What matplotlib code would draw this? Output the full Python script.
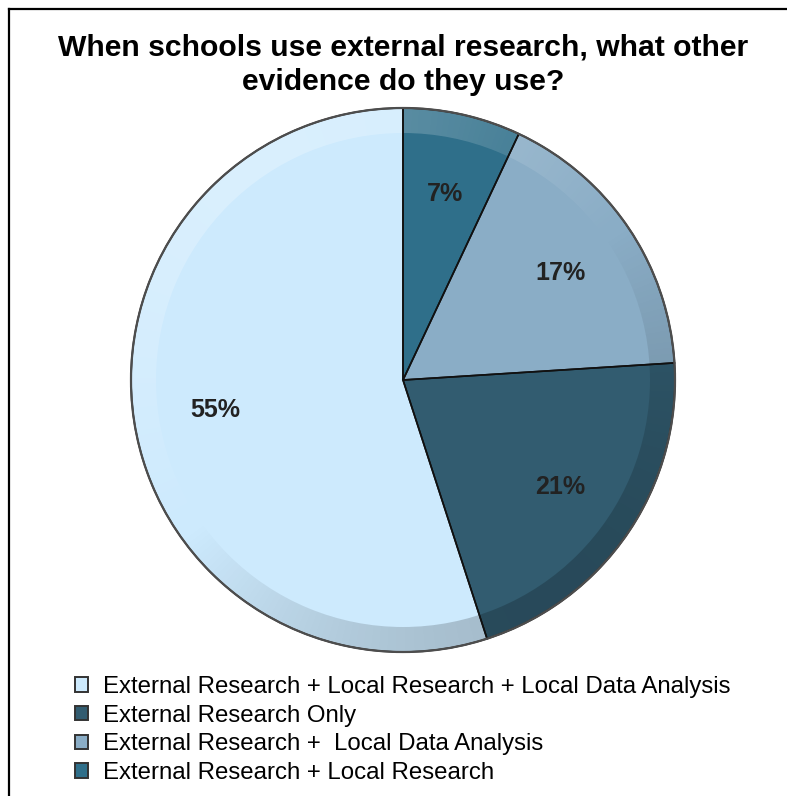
import numpy as np
import matplotlib.pyplot as plt
from matplotlib.patches import Wedge, Circle
from matplotlib.lines import Line2D

plt.rcParams['font.family'] = ['Liberation Sans', 'DejaVu Sans']

# slices clockwise from 12 o'clock
labels = ["External Research + Local Research",
          "External Research +  Local Data Analysis",
          "External Research Only",
          "External Research + Local Research + Local Data Analysis"]
shares = [7, 17, 21, 55]
colors = ["#2f6f8a", "#8aadc6", "#325c70", "#cdeafd"]

title = "When schools use external research, what other\nevidence do they use?"

W, H = 787, 796
fig = plt.figure(figsize=(W / 100, H / 100), dpi=100)
ax = fig.add_axes([0, 0, 1, 1])
ax.set_xlim(0, W)
ax.set_ylim(0, H)
ax.set_aspect('equal')
ax.axis('off')

cx, cy, r = 403, H - 380, 272

wedges, _, pcts = ax.pie(shares, colors=colors, startangle=90, counterclock=False,
                         center=(cx, cy), radius=r, frame=True,
                         autopct=lambda p: f"{p:.0f}%", pctdistance=0.7,
                         wedgeprops={'linewidth': 0})
for t in pcts:
    t.set_fontsize(18)
    t.set_fontweight('bold')
    t.set_color('#222222')
    t.set_zorder(5)

# bevel ring: lighter toward upper left, darker toward lower right
yy, xx = np.mgrid[cy - r:cy + r:600j, cx - r:cx + r:600j]
theta = np.arctan2(yy - cy, xx - cx)
v = np.cos(theta - np.deg2rad(125))
shade = np.zeros(xx.shape + (4,))
lit = v > 0
shade[lit, :3] = 1.0
shade[lit, 3] = 0.25 * v[lit]
shade[~lit, :3] = 0.0
shade[~lit, 3] = 0.2 * -v[~lit]
img = ax.imshow(shade, extent=(cx - r, cx + r, cy - r, cy + r), origin='lower',
                zorder=2, interpolation='bilinear')
ring = Wedge((cx, cy), r, 0, 360, width=25, transform=ax.transData)
img.set_clip_path(ring)

# outlines on top of the shading
ax.pie(shares, startangle=90, counterclock=False, center=(cx, cy), radius=r,
       frame=True, wedgeprops={'fill': False, 'edgecolor': '#111111',
                               'linewidth': 1.2, 'zorder': 3})
ax.add_patch(Circle((cx, cy), r, fill=False, edgecolor='#4d4d4d', lw=1.6, zorder=4))
ax.set_xlim(0, W)
ax.set_ylim(0, H)
ax.axis('off')

fig.text(0.512, 1 - 33 / H, title, ha='center', va='top', fontsize=21.7,
         fontweight='bold', linespacing=1.3)

handles = [wedges[i] for i in range(3, -1, -1)]
names = [labels[i] for i in range(3, -1, -1)]
leg = fig.legend(handles, names, loc='upper left',
                 bbox_to_anchor=(75 / W, 1 - 676 / H), frameon=False,
                 fontsize=17.3, handlelength=0.55, handleheight=0.55,
                 handletextpad=0.6, labelspacing=0.28, borderaxespad=0,
                 borderpad=0)
for h in leg.legend_handles:
    h.set_edgecolor('#333333')
    h.set_linewidth(1.4)

# frame lines on the left and top
fig.add_artist(Line2D([9 / W, 9 / W], [0, 1 - 9 / H], color='black', lw=1.6))
fig.add_artist(Line2D([9 / W, 1], [1 - 9 / H, 1 - 9 / H], color='black', lw=1.6))

fig.savefig('out.png', dpi=100)
